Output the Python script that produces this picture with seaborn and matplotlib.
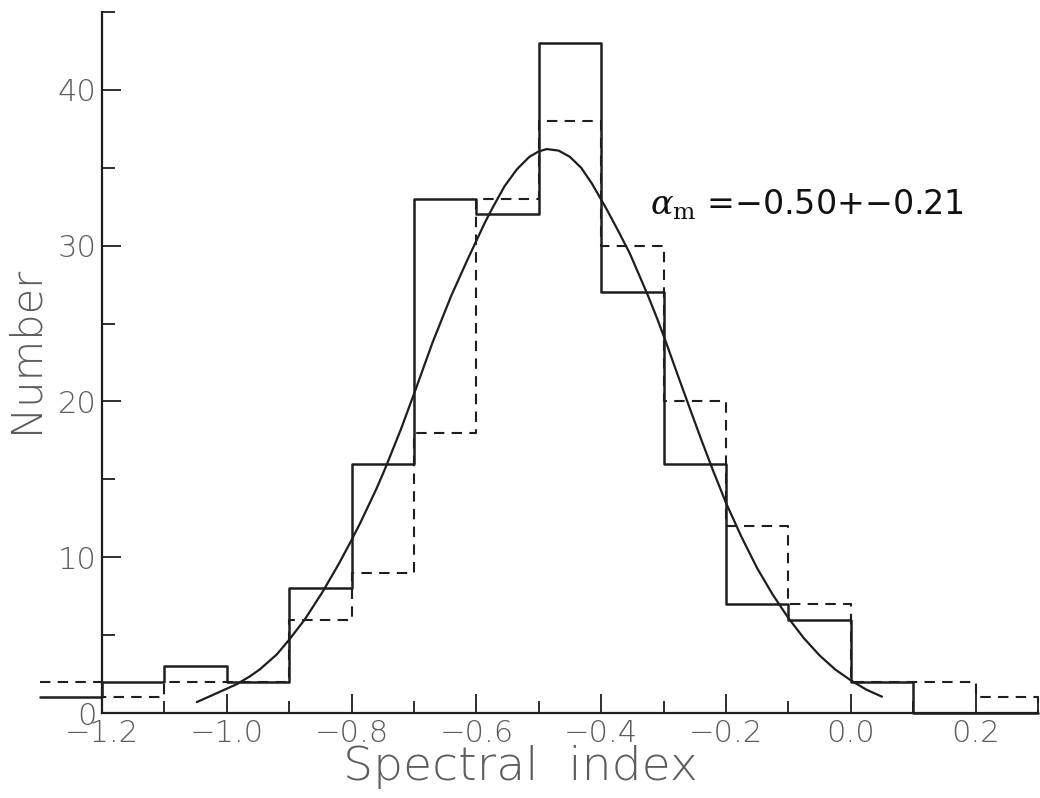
import numpy as np
import pandas as pd
import matplotlib
matplotlib.use("Agg")
import matplotlib.pyplot as plt
import seaborn as sns
from matplotlib.ticker import MultipleLocator

# ---- data ----
bin_edges = [-1.3, -1.2, -1.1, -1.0, -0.9, -0.8, -0.7, -0.6, -0.5, -0.4,
             -0.3, -0.2, -0.1, 0.0, 0.1, 0.2, 0.3]
solid_counts = [1, 2, 3, 2, 8, 16, 33, 32, 43, 27, 16, 7, 6, 2, 0, 0]
dashed_counts = [2, 1, 2, 2, 6, 9, 18, 33, 38, 30, 20, 12, 7, 2, 2, 1]

curve_x = [-1.048, -1.02, -0.984, -0.963, -0.947, -0.92, -0.9, -0.875, -0.846,
           -0.82, -0.8, -0.786, -0.76, -0.746, -0.72, -0.697, -0.67, -0.64,
           -0.613, -0.586, -0.573, -0.555, -0.535, -0.515, -0.5, -0.487,
           -0.468, -0.45, -0.432, -0.415, -0.402, -0.392, -0.372, -0.354,
           -0.34, -0.325, -0.31, -0.296, -0.28, -0.261, -0.24, -0.221, -0.2,
           -0.175, -0.15, -0.125, -0.1, -0.075, -0.05, -0.025, 0.0, 0.025, 0.05]
curve_y = [0.7, 1.2, 1.85, 2.35, 2.8, 3.75, 4.7, 6.0, 7.8,
           9.6, 11.1, 12.2, 14.4, 15.7, 18.3, 20.8, 23.8, 26.8,
           29.2, 31.5, 32.5, 33.8, 34.9, 35.7, 36.05, 36.2,
           36.1, 35.7, 35.0, 34.0, 33.1, 32.4, 30.9, 29.5,
           28.2, 26.8, 25.3, 23.8, 22.0, 19.9, 17.6, 15.6, 13.5,
           11.3, 9.3, 7.6, 6.1, 4.8, 3.7, 2.8, 2.1, 1.5, 1.05]

x_ticks = [-1.2, -1.0, -0.8, -0.6, -0.4, -0.2, 0.0, 0.2]
x_ticklabels = ["\u22121.2", "\u22121.0", "\u22120.8", "\u22120.6", "\u22120.4",
                "\u22120.2", "0.0", "0.2"]
y_ticks = [0, 10, 20, 30, 40]
y_ticklabels = ["0", "10", "20", "30", "40"]
x_label = "Spectral  index"
y_label = "Number"
annotation = r"$\alpha_{\rm m}$" + " =\u22120.50+\u22120.21"

# ---- styling ----
sns.set_style("white")
plt.rcParams["font.family"] = ["DejaVu Sans"]
plt.rcParams["mathtext.fontset"] = "dejavuserif"

line_col = "#1e1e1e"
text_col = "#5c5c5c"

fig = plt.figure(figsize=(10.4, 7.98), dpi=100)
ax = fig.add_axes([0.098, 0.1065, 0.900, 0.8785])

# solid histogram
solid_df = pd.DataFrame({"x": bin_edges,
                         "y": solid_counts + [solid_counts[-1]]})
sns.lineplot(data=solid_df, x="x", y="y", ax=ax, estimator=None, sort=False,
             drawstyle="steps-post", color=line_col, linewidth=1.8,
             clip_on=False)

# dashed histogram (closed with a drop to zero at the right end)
dashed_df = pd.DataFrame({"x": bin_edges + [bin_edges[-1]],
                          "y": dashed_counts + [dashed_counts[-1], 0]})
sns.lineplot(data=dashed_df, x="x", y="y", ax=ax, estimator=None, sort=False,
             drawstyle="steps-post", color=line_col, linewidth=1.5,
             linestyle=(0, (5, 3.5)), clip_on=False)

# fitted curve
curve_df = pd.DataFrame({"x": curve_x, "y": curve_y})
sns.lineplot(data=curve_df, x="x", y="y", ax=ax, estimator=None, sort=False,
             color=line_col, linewidth=1.6)

ax.set_xlim(-1.2, 0.3)
ax.set_ylim(0, 45)

ax.set_xticks(x_ticks)
ax.set_xticklabels(x_ticklabels)
ax.set_yticks(y_ticks)
ax.set_yticklabels(y_ticklabels)
ax.xaxis.set_minor_locator(MultipleLocator(0.1))
ax.yaxis.set_minor_locator(MultipleLocator(5))

ax.tick_params(axis="both", which="major", direction="in", length=14,
               width=1.3, color=line_col, labelsize=22, labelcolor=text_col,
               pad=4)
ax.tick_params(axis="both", which="minor", direction="in", length=9,
               width=1.3, color=line_col)
ax.tick_params(axis="x", which="both", bottom=True, top=False)
ax.tick_params(axis="y", which="both", left=True, right=False)
for lab in ax.get_xticklabels() + ax.get_yticklabels():
    lab.set_fontweight("light")

for side in ["top", "right"]:
    ax.spines[side].set_visible(False)
for side in ["left", "bottom"]:
    ax.spines[side].set_color(line_col)
    ax.spines[side].set_linewidth(1.6)

ax.set_xlabel(x_label, fontsize=34, color=text_col, fontweight="light")
ax.set_ylabel(y_label, fontsize=30, color=text_col, fontweight="light")
ax.xaxis.set_label_coords(0.447, -0.046)
ax.yaxis.set_label_coords(-0.060, 0.518)

ax.text(-0.322, 32.0, annotation, fontsize=24, color="#111111",
        ha="left", va="baseline")

fig.savefig("out.png", dpi=100, facecolor="white")
